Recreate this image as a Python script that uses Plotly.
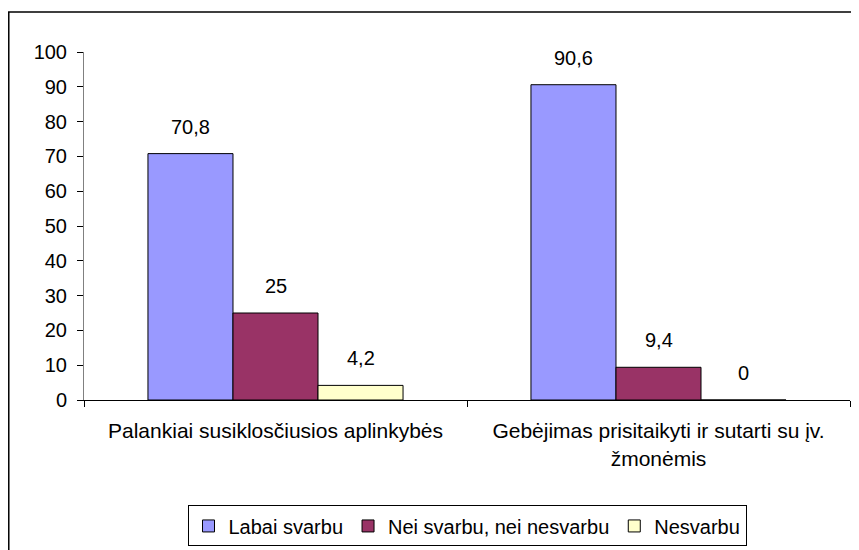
import plotly.graph_objects as go

categories = ["Palankiai susiklosčiusios aplinkybės",
              "Gebėjimas prisitaikyti ir sutarti su įv.<br>žmonėmis"]
series_names = ["Labai svarbu", "Nei svarbu, nei nesvarbu", "Nesvarbu"]
labai_svarbu = [70.8, 90.6]
nei_svarbu = [25, 9.4]
nesvarbu = [4.2, 0]
colors = ["#9999FF", "#993366", "#FFFFCC"]
y_ticks = [0, 10, 20, 30, 40, 50, 60, 70, 80, 90, 100]

FONT = "Liberation Sans, Arial, sans-serif"
FS = 20
BARGAP = 0.334

series = [labai_svarbu, nei_svarbu, nesvarbu]

fig = go.Figure()
for name, vals, col in zip(series_names, series, colors):
    fig.add_trace(go.Bar(
        name=name, x=categories, y=vals,
        marker=dict(color=col, line=dict(color="black", width=1)),
        cliponaxis=False,
    ))

# value labels placed above each bar via the category axis
n = len(series)
w = (1 - BARGAP) / n
annotations = []
for i, vals in enumerate(series):
    for j, v in enumerate(vals):
        annotations.append(dict(
            x=j + (i - (n - 1) / 2) * w, y=v, xref="x", yref="y",
            text=f"{v:g}".replace(".", ","), showarrow=False,
            yanchor="middle", yshift=27,
            font=dict(size=FS, color="black", family=FONT)))

fig.update_layout(
    width=851, height=542,
    margin=dict(l=76, r=9, t=44, b=150, autoexpand=False),
    paper_bgcolor="white", plot_bgcolor="white",
    barmode="group", bargap=BARGAP, bargroupgap=0,
    separators=",.",
    font=dict(family=FONT, size=FS, color="black"),
    showlegend=True,
    legend=dict(orientation="h", x=0.5, xanchor="center", y=-0.303, yanchor="top",
                bordercolor="black", borderwidth=1, font=dict(size=FS),
                itemwidth=30, traceorder="normal"),
    xaxis=dict(showline=True, linecolor="black", linewidth=1, automargin=False,
               ticks="outside", tickson="boundaries", ticklen=6, tickcolor="black",
               ticklabelstandoff=12,
               tickfont=dict(size=21), showgrid=False),
    yaxis=dict(range=[0, 100], tickvals=y_ticks, showline=True, linecolor="#808080",
               linewidth=1, ticks="outside", ticklen=6, tickcolor="black", automargin=False,
               ticklabelstandoff=6,
               showgrid=False, zeroline=False, tickfont=dict(size=FS)),
    annotations=annotations,
    shapes=[dict(type="rect", xref="paper", yref="paper",
                 x0=-0.0982, x1=1.05, y0=-0.5, y1=1.115,
                 line=dict(color="black", width=1.5), fillcolor="rgba(0,0,0,0)")],
)

fig.write_html("out.html")
